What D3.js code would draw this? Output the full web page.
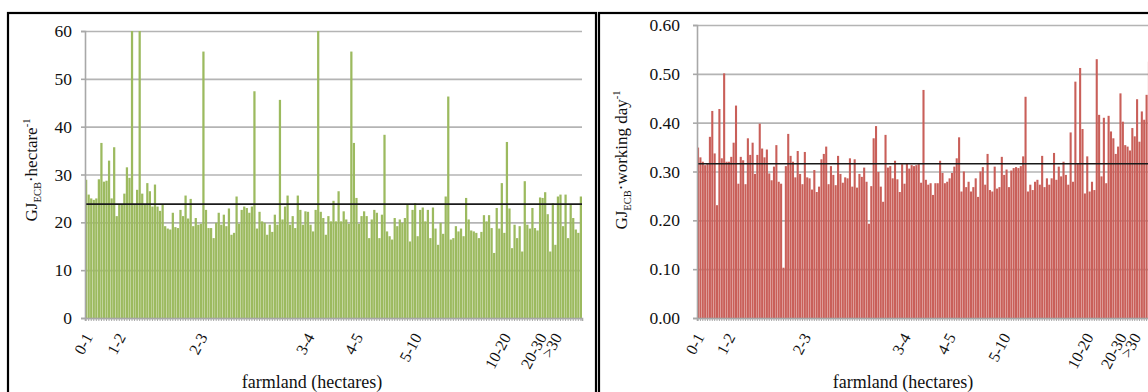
<!DOCTYPE html>
<html>
<head>
<meta charset="utf-8">
<script src="https://cdn.jsdelivr.net/npm/d3@7"></script>
<style>
  body { margin: 0; background: #fff; }
  svg { display: block; font-family: "Liberation Serif", "Times New Roman", serif; }
</style>
</head>
<body>
<div id="chart"></div>
<script>
// farm size classes and the farm index where each label sits
const groupLabels = ['0-1', '1-2', '2-3', '3-4', '4-5', '5-10', '10-20', '20-30', '>30'];
const groupIndex = [2, 15, 47, 89, 108, 131, 166, 180, 186];

// GJ(ECB) per hectare, one value per farm
const hectareValues = [
  28.9, 25.8, 25, 24.7, 25, 29, 36.6, 28.5, 28.7, 32.9, 25, 35.7, 21.3, 23.7, 23.7, 26, 31.5, 29.3, 60, 23.7,
  26.8, 60, 26, 23.7, 28.2, 26.5, 23.3, 27.9, 23.3, 22.4, 23.7, 19.2, 18.7, 18.5, 22, 19, 18.8, 22.6, 21.3, 25.6,
  20.8, 24.9, 19.2, 20.9, 19.5, 19.7, 55.7, 22.6, 18.8, 18.8, 16.7, 19.9, 22, 19.5, 21.6, 19.2, 22.9, 17.4, 17.8, 25.4,
  19.7, 22.6, 23.3, 23, 22, 23.3, 47.4, 18.7, 22.2,
  20.2, 19.9, 17.4, 19.5, 18, 21.6, 19.5, 45.6, 20.6, 23.3, 25.6, 19.5, 21.3, 18.8, 25.6, 22.6, 19.5, 22.3, 22.2, 19.5,
  18.1, 22.6, 60, 22.2, 20.9, 17.4, 21.3, 20.2, 24.5, 20.2, 26.5, 20.2, 22.3, 20.6, 19.7, 55.7, 36.6, 25.1, 19.7, 21.3,
  22.3, 21.3, 16.7, 20.6, 22.6, 22, 16.7, 21.6, 38.3, 18.1, 17.1, 16.4, 20.9, 19.2, 20.6, 19.9, 20.9, 23.7, 16, 22.6,
  24, 17.1, 22.6, 23.1,
  20.2, 22.6, 16.7, 23.1, 18.7, 15.3, 19.9, 17.6, 25.4, 46.3, 16.4, 16.7, 19.2, 18.1, 18.7, 17.1, 25.1, 20.6, 18.3, 18.1,
  17.8, 16.7, 18, 21.5, 20.2, 21.5, 18.8, 13.6, 23, 18.7, 28.2, 17.8, 36.8, 22.9, 14.6, 19.5, 16.7, 19.2, 13.9, 28.6,
  19.5, 18.7, 23, 18.8, 18.3, 25.2, 25.1, 26.3, 21.7, 13.9, 24, 15.3, 25.4, 25.8, 19.2, 25.8, 16.7, 23.7, 20.9, 18.5,
  17.8, 25.4
];

// GJ(ECB) per working day, one value per farm (right edge is cut off)
const workdayValues = [
  0.349, 0.329, 0.320, 0.313, 0.316, 0.371, 0.424, 0.337, 0.231, 0.428, 0.327, 0.501, 0.320, 0.320, 0.330, 0.359, 0.435, 0.275, 0.330, 0.323,
  0.274, 0.368, 0.334, 0.359, 0.295, 0.334, 0.398, 0.347, 0.329, 0.345, 0.296, 0.282, 0.310, 0.354, 0.279, 0.275, 0.103, 0.311, 0.377, 0.332,
  0.320, 0.288, 0.342, 0.295, 0.274, 0.340, 0.288, 0.286, 0.263, 0.303, 0.258, 0.269, 0.325, 0.336, 0.351, 0.274, 0.311, 0.293, 0.272, 0.332,
  0.295, 0.277, 0.288, 0.286, 0.327, 0.269, 0.325, 0.267, 0.295, 0.289, 0.308, 0.279, 0.193, 0.270, 0.368, 0.393, 0.299, 0.269, 0.238, 0.375,
  0.308, 0.311, 0.286, 0.322, 0.284, 0.258, 0.315, 0.275, 0.316, 0.306, 0.313, 0.311, 0.313, 0.315, 0.277,
  0.467, 0.283, 0.273, 0.276, 0.252, 0.276, 0.276, 0.322, 0.297, 0.276, 0.279, 0.286, 0.297, 0.310, 0.327, 0.370, 0.259, 0.300, 0.268, 0.279,
  0.259, 0.268, 0.286, 0.248, 0.300, 0.309, 0.273, 0.336, 0.262, 0.259, 0.310, 0.265, 0.268, 0.330, 0.293, 0.304, 0.268, 0.302, 0.307, 0.309,
  0.307, 0.311, 0.331, 0.453, 0.259, 0.273, 0.262, 0.279, 0.283, 0.273, 0.332, 0.268, 0.286, 0.273, 0.286, 0.338, 0.283, 0.310, 0.290, 0.320,
  0.293, 0.273, 0.380, 0.279, 0.484, 0.317, 0.512, 0.387, 0.255, 0.331, 0.259, 0.279, 0.262, 0.530, 0.416, 0.290, 0.410, 0.276, 0.414, 0.382,
  0.368, 0.336, 0.351, 0.460, 0.402, 0.354, 0.351, 0.343, 0.389, 0.372, 0.448, 0.361, 0.423, 0.406, 0.457, 0.525
];

const hectareTicks = [0, 10, 20, 30, 40, 50, 60];
const workdayTicks = [0, 0.1, 0.2, 0.3, 0.4, 0.5, 0.6];
const hectareMean = 23.8;
const workdayMean = 0.316;

const WIDTH = 1148;
const HEIGHT = 392;

const svg = d3.select('#chart')
  .append('svg')
  .attr('width', WIDTH)
  .attr('height', HEIGHT);

// panel frames
svg.append('rect').attr('x', 8).attr('y', 13).attr('width', 588).attr('height', 400)
  .attr('fill', 'none').attr('stroke', '#000').attr('stroke-width', 2.2);
svg.append('rect').attr('x', 599).attr('y', 13).attr('width', 600).attr('height', 400)
  .attr('fill', 'none').attr('stroke', '#000').attr('stroke-width', 2.2);

const drawPanel = p => {
  const n = p.values.length;
  const x = d3.scaleBand().domain(d3.range(n)).range([p.x0, p.x1]).paddingInner(0.12);
  const y = d3.scaleLinear().domain([0, p.max]).range([p.yBot, p.yTop]).clamp(true);
  const g = svg.append('g');

  // gridlines, behind the bars
  g.append('g')
    .attr('transform', `translate(${p.x0},0)`)
    .call(d3.axisLeft(y).tickValues(p.ticks).tickSize(-(p.x1 - p.x0)).tickFormat(''))
    .call(a => a.select('.domain').remove())
    .selectAll('line')
    .attr('stroke', '#b4b4b4')
    .attr('stroke-width', 1.6);

  g.append('g')
    .selectAll('rect')
    .data(p.values)
    .join('rect')
    .attr('x', (d, i) => x(i))
    .attr('width', x.bandwidth())
    .attr('y', d => y(d))
    .attr('height', d => y(0) - y(d))
    .attr('fill', p.color);

  // mean line
  g.append('line')
    .attr('x1', p.x0).attr('x2', p.x1)
    .attr('y1', y(p.mean)).attr('y2', y(p.mean))
    .attr('stroke', '#1a1a1a')
    .attr('stroke-width', 1.6);

  const yAxis = g.append('g')
    .attr('transform', `translate(${p.x0},0)`)
    .call(d3.axisLeft(y).tickValues(p.ticks).tickSize(4).tickPadding(p.pad).tickFormat(p.fmt));
  yAxis.select('.domain').attr('stroke', '#a8a8a8').attr('stroke-width', 1.6);
  yAxis.selectAll('line').attr('stroke', '#a8a8a8').attr('stroke-width', 1.6);
  yAxis.selectAll('text').attr('font-size', 17.5).attr('fill', '#111')
    .style('font-family', '"Liberation Serif", serif');

  const xAxis = g.append('g')
    .attr('transform', `translate(0,${p.yBot})`)
    .call(d3.axisBottom(x).tickSize(3).tickFormat(''));
  xAxis.select('.domain').attr('stroke', '#a8a8a8').attr('stroke-width', 1.6);
  xAxis.selectAll('line').attr('stroke', '#a8a8a8');

  g.append('g')
    .selectAll('text')
    .data(groupLabels)
    .join('text')
    .attr('transform', (d, i) => `translate(${x(groupIndex[i]) + x.bandwidth() / 2 + 2},337) rotate(-62)`)
    .attr('text-anchor', 'end')
    .attr('font-size', 16)
    .attr('fill', '#111')
    .text(d => d);

  g.append('text')
    .attr('x', p.titleX).attr('y', 388)
    .attr('text-anchor', 'middle')
    .attr('font-size', 18)
    .attr('fill', '#111')
    .text('farmland (hectares)');

  const lab = g.append('text')
    .attr('transform', `translate(${p.labelX},${p.labelY}) rotate(-90)`)
    .attr('text-anchor', 'middle')
    .attr('font-size', 17)
    .attr('fill', '#111');
  lab.append('tspan').text('GJ');
  lab.append('tspan').attr('font-size', 10.5).attr('dy', 4).text('ECB');
  lab.append('tspan').attr('dy', -4).text('·' + p.unit);
  lab.append('tspan').attr('font-size', 10.5).attr('dy', -7).text('-1');
};

drawPanel({
  values: hectareValues, ticks: hectareTicks, max: 60, mean: hectareMean,
  x0: 85, x1: 582, yTop: 31, yBot: 318, color: '#9cba5f', pad: 9,
  fmt: d3.format('d'), titleX: 312, labelX: 37, labelY: 170, unit: 'hectare'
});

drawPanel({
  values: workdayValues, ticks: workdayTicks, max: 0.6, mean: workdayMean,
  x0: 697, x1: 1150, yTop: 25, yBot: 318, color: '#c95f59', pad: 13,
  fmt: d3.format('.2f'), titleX: 903, labelX: 627, labelY: 160, unit: 'working day'
});
</script>
</body>
</html>
